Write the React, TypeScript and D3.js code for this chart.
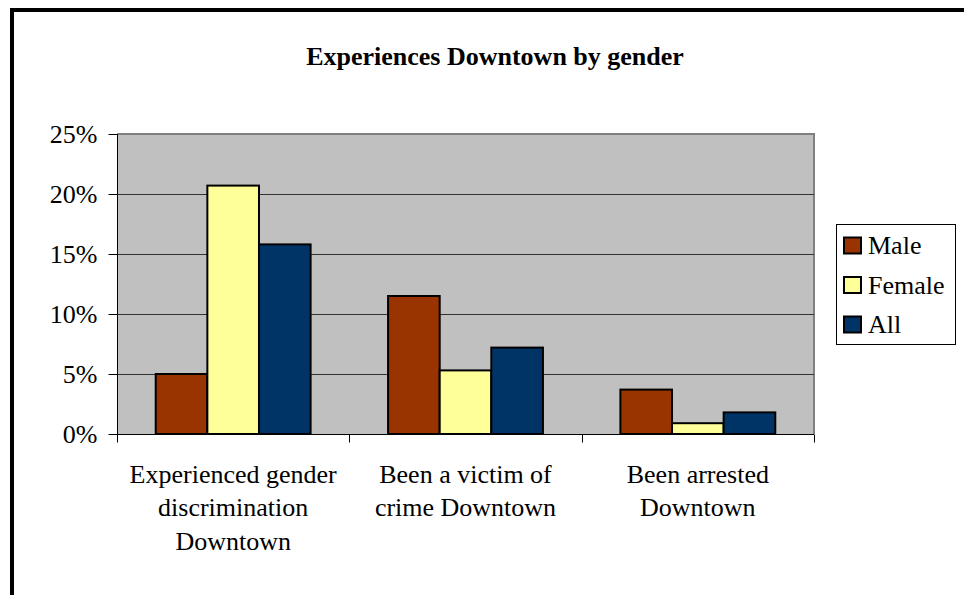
import { useRef, useEffect } from 'react';
import * as d3 from 'd3';

const categories = [
    ['Experienced gender', 'discrimination', 'Downtown'],
    ['Been a victim of', 'crime Downtown'],
    ['Been arrested', 'Downtown'],
];
const seriesNames = ['Male', 'Female', 'All'];
const maleValues = [5.0, 11.5, 3.7];
const femaleValues = [20.7, 5.3, 0.9];
const allValues = [15.8, 7.2, 1.8];
const yTicks = [0, 5, 10, 15, 20, 25];
const colors = ['#993300', '#FFFF99', '#003366'];

const W = 964;
const H = 595;

export default function App() {
    const svgRef = useRef<SVGSVGElement>(null);

    useEffect(() => {
        if (!svgRef.current) return;
        const root = d3.select(svgRef.current);
        root.selectAll('*').remove();

        const font = "'Liberation Serif', 'Times New Roman', Times, 'Nimbus Roman', 'DejaVu Serif', serif";
        const plot = { left: 117, right: 814, top: 134, bottom: 434 };
        const values = [maleValues, femaleValues, allValues];
        const catIdx = categories.map((_c, i) => i);

        const x0 = d3.scaleBand<number>().domain(catIdx).range([plot.left, plot.right]).padding(0);
        const x1 = d3.scaleBand<number>()
            .domain(seriesNames.map((_s, i) => i))
            .range([0, x0.bandwidth()])
            .paddingInner(0)
            .paddingOuter(0.75);
        const y = d3.scaleLinear().domain([0, 25]).range([plot.bottom, plot.top]);

        // outer chart border (only top/left visible in frame)
        root.append('rect')
            .attr('x', 12).attr('y', 10)
            .attr('width', W + 20).attr('height', H + 20)
            .attr('fill', 'white')
            .attr('stroke', '#000').attr('stroke-width', 4);

        // title
        root.append('text')
            .attr('x', 495).attr('y', 65)
            .attr('text-anchor', 'middle')
            .attr('font-family', font)
            .attr('font-size', 26)
            .attr('font-weight', 'bold')
            .text('Experiences Downtown by gender');

        // plot area
        root.append('rect')
            .attr('x', plot.left).attr('y', plot.top)
            .attr('width', plot.right - plot.left).attr('height', plot.bottom - plot.top)
            .attr('fill', '#C0C0C0');
        root.append('path')
            .attr('d', `M${plot.left},${plot.top}H${plot.right}V${plot.bottom}`)
            .attr('fill', 'none')
            .attr('stroke', '#808080')
            .attr('stroke-width', 2);

        // grid lines
        root.selectAll('.grid')
            .data(yTicks.filter(t => t > 0 && t < 25))
            .enter()
            .append('line')
            .attr('x1', plot.left).attr('x2', plot.right)
            .attr('y1', d => y(d) + 0.5).attr('y2', d => y(d) + 0.5)
            .attr('stroke', '#333')
            .attr('stroke-width', 1);

        // bars
        values.forEach((vals, s) => {
            root.selectAll(`.bar-${s}`)
                .data(vals)
                .enter()
                .append('rect')
                .attr('x', (_d, i) => (x0(i) || 0) + (x1(s) || 0))
                .attr('width', x1.bandwidth())
                .attr('y', d => y(d))
                .attr('height', d => plot.bottom - y(d))
                .attr('fill', colors[s])
                .attr('stroke', '#000')
                .attr('stroke-width', 2);
        });

        // y axis
        const yAxis = root.append('g').attr('transform', `translate(${plot.left + 0.5},0)`);
        yAxis.append('line')
            .attr('y1', plot.top).attr('y2', plot.bottom)
            .attr('stroke', '#000');
        yTicks.forEach(t => {
            yAxis.append('line')
                .attr('x1', -9).attr('x2', 0)
                .attr('y1', y(t) + 0.5).attr('y2', y(t) + 0.5)
                .attr('stroke', '#000');
            yAxis.append('text')
                .attr('x', -20).attr('y', y(t) + 9)
                .attr('text-anchor', 'end')
                .attr('font-family', font)
                .attr('font-size', 26)
                .text(`${t}%`);
        });

        // x axis
        const xAxis = root.append('g').attr('transform', `translate(0,${plot.bottom + 0.5})`);
        xAxis.append('line')
            .attr('x1', plot.left).attr('x2', plot.right)
            .attr('stroke', '#000');
        [...catIdx, categories.length].forEach(i => {
            const xx = Math.round(i < categories.length ? (x0(i) || 0) : plot.right) + 0.5;
            xAxis.append('line')
                .attr('x1', xx).attr('x2', xx)
                .attr('y1', 0).attr('y2', 8)
                .attr('stroke', '#000');
        });
        categories.forEach((lines, i) => {
            const t = xAxis.append('text')
                .attr('text-anchor', 'middle')
                .attr('font-family', font)
                .attr('font-size', 26);
            lines.forEach((ln, k) => {
                t.append('tspan')
                    .attr('x', (x0(i) || 0) + x0.bandwidth() / 2)
                    .attr('y', 48 + k * 33.5)
                    .text(ln);
            });
        });

        // legend
        const legend = root.append('g').attr('transform', 'translate(836,224)');
        legend.append('rect')
            .attr('x', 0.5).attr('y', 0.5)
            .attr('width', 119).attr('height', 120)
            .attr('fill', 'white')
            .attr('stroke', '#000')
            .attr('stroke-width', 1);
        seriesNames.forEach((name, i) => {
            legend.append('rect')
                .attr('x', 8).attr('y', 13.5 + i * 39.5)
                .attr('width', 17).attr('height', 16)
                .attr('fill', colors[i])
                .attr('stroke', '#000')
                .attr('stroke-width', 2);
            legend.append('text')
                .attr('x', 32).attr('y', 30 + i * 39.5)
                .attr('font-family', font)
                .attr('font-size', 26)
                .text(name);
        });
    }, []);

    return (
        <svg
            ref={svgRef}
            width={W}
            height={H}
            style={{ position: 'fixed', left: 0, top: 0, background: 'white' }}
        ></svg>
    );
}
